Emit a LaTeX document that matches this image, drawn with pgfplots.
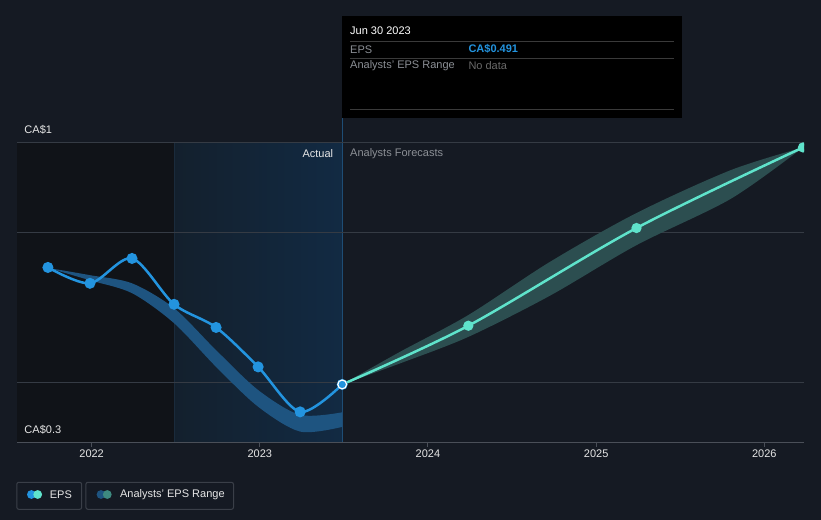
\documentclass[border=0pt]{standalone}
\usepackage{pgfplots}
\pgfplotsset{compat=1.18}
\usepgfplotslibrary{fillbetween}
\usepackage{fontspec}
\setmainfont{Liberation Sans}

\definecolor{bg}{HTML}{151A23}
\definecolor{darkzone}{HTML}{101318}
\definecolor{hlL}{HTML}{13202D}
\definecolor{hlR}{HTML}{122A43}
\definecolor{hledge}{HTML}{1A2B3C}
\definecolor{vline}{HTML}{1E4D75}
\definecolor{gridc}{HTML}{353B44}
\definecolor{axisgrey}{HTML}{4A4F58}
\definecolor{txt}{HTML}{E6E6E6}
\definecolor{greytxt}{HTML}{8C9096}
\definecolor{dimtxt}{HTML}{6A6A6A}
\definecolor{epsblue}{HTML}{2394DF}
\definecolor{teal}{HTML}{5FE3CB}
\definecolor{histband}{HTML}{1E5480}
\definecolor{tealband}{HTML}{2C4E50}
\definecolor{legteal}{HTML}{3E8A80}
\definecolor{tipline}{HTML}{3A3A3A}
\definecolor{legbox}{HTML}{3A3F48}

\newcommand{\fs}{\fontsize{11bp}{13bp}\selectfont}
\pagecolor{bg}

\begin{document}
\begin{tikzpicture}
\path (0,0) rectangle (821bp,-520bp);

\begin{axis}[
  set layers,
  at={(16.8bp,-442.3bp)}, anchor=south west,
  scale only axis, width=787.2bp, height=300bp,
  xmin=2021.555, xmax=2026.236, ymin=0.3, ymax=1.0,
  axis line style={draw=none},
  xtick={2022,2023,2024,2025,2026},
  xticklabel style={font=\fs, text=txt},
  /pgf/number format/1000 sep={},
  /pgf/number format/assume math mode=true,
  xtick pos=bottom, tick align=outside, major tick length=4.3bp,
  xtick style={draw=axisgrey, line width=1bp},
  ytick={0.44,0.79,1}, yticklabels={,,},
  ytick style={/pgfplots/major tick length=0pt},
  ymajorgrids, grid style={draw=gridc, line width=1bp},
  clip marker paths=true,
]
% past period and last-year highlight
\begin{pgfonlayer}{axis background}
  \fill[darkzone] (axis cs:2021.555,0.3) rectangle (axis cs:2022.49,1.0);
  \shade[left color=hlL,right color=hlR] (axis cs:2022.49,0.3) rectangle (axis cs:2023.49,1.0);
  \draw[hledge,line width=1bp] (axis cs:2022.49,0.3) -- (axis cs:2022.49,1.0);
  \draw[vline,line width=1bp] (axis cs:2023.49,0.3) -- (axis cs:2023.49,1.0);
\end{pgfonlayer}

% analysts' forecast range
\addplot[name path=fu, draw=none, smooth] coordinates {
  (2023.49,0.435) (2023.833,0.511) (2024.24,0.597) (2024.725,0.721)
  (2025.24,0.835) (2025.80,0.935) (2026.23,0.988)};
\addplot[name path=fl, draw=none, smooth] coordinates {
  (2023.49,0.435) (2023.833,0.484) (2024.24,0.546) (2024.725,0.642)
  (2025.24,0.760) (2025.80,0.868) (2026.23,0.988)};
\addplot[tealband, draw=none] fill between[of=fu and fl];

% past analysts' range
\addplot[name path=hu, draw=none, smooth] coordinates {
  (2021.74,0.707) (2021.99,0.690) (2022.24,0.671) (2022.49,0.613)
  (2022.74,0.515) (2022.99,0.422) (2023.24,0.364) (2023.49,0.370)};
\addplot[name path=hl, draw=none, smooth] coordinates {
  (2021.74,0.707) (2021.99,0.678) (2022.24,0.648) (2022.49,0.578)
  (2022.74,0.476) (2022.99,0.383) (2023.24,0.325) (2023.49,0.336)};
\addplot[histband, draw=none] fill between[of=hu and hl];

% EPS forecast
\addplot[teal, line width=2.5bp, smooth, mark=*, mark size=3.8bp,
  mark options={fill=teal, draw=none}] coordinates {
  (2023.49,0.435) (2024.24,0.572) (2025.24,0.800) (2026.23,0.988)};

% EPS actual
\addplot[epsblue, line width=2.5bp, smooth, mark=*, mark size=4.2bp,
  mark options={fill=epsblue, draw=none}] coordinates {
  (2021.74,0.708) (2021.99,0.671) (2022.24,0.729) (2022.49,0.622)
  (2022.74,0.568) (2022.99,0.476) (2023.24,0.371) (2023.49,0.435)};
\addplot[only marks, mark=*, mark size=4.4bp,
  mark options={fill=epsblue, draw=white, line width=1.2bp}] coordinates {
  (2023.49,0.435)};
\end{axis}

\begin{scope}[x=1bp,y=-1bp, every node/.style={inner sep=0pt, font=\fs}]
  \draw[vline,line width=1bp] (342.2,117.7) -- (342.2,142.3);
  % axis line
  \draw[axisgrey,line width=1bp] (16.8,442.3) -- (804,442.3);
  % value labels
  \node[anchor=west, text=txt] at (24.3,130) {CA\$1};
  \node[anchor=west, text=txt] at (24.3,430) {CA\$0.3};
  \node[anchor=east, text=txt] at (333.3,154) {Actual};
  \node[anchor=west, text=greytxt] at (350,154) {Analysts Forecasts};

  % tooltip
  \fill[black] (342,16) rectangle (682,117.7);
  \draw[tipline,line width=1bp] (350,41.7) -- (674,41.7);
  \draw[tipline,line width=1bp] (350,58.3) -- (674,58.3);
  \draw[tipline,line width=1bp] (350,109.3) -- (674,109.3);
  \node[anchor=west, text=white] at (350,31) {Jun 30 2023};
  \node[anchor=west, text=greytxt] at (350,49.3) {EPS};
  \node[anchor=west, text=epsblue, font=\fs\bfseries] at (468.3,49.3) {CA\$0.491};
  \node[anchor=west, text=greytxt] at (350,66) {Analysts' EPS Range};
  \node[anchor=west, text=dimtxt] at (468.3,66) {No data};

  % legend
  \draw[legbox,line width=1bp,rounded corners=2bp] (16.8,482.3) rectangle (81.7,509.3);
  \draw[legbox,line width=1bp,rounded corners=2bp] (85.9,482.3) rectangle (233.5,509.3);
  \fill[epsblue] (31.4,494.5) circle (4.4);
  \fill[teal] (37.7,494.5) circle (4.4);
  \node[anchor=west, text=txt] at (49.7,494.5) {EPS};
  \fill[histband] (101,494.5) circle (4.4);
  \fill[legteal] (107.3,494.5) circle (4.4);
  \node[anchor=west, text=txt] at (119.9,494.5) {Analysts' EPS Range};
\end{scope}
\end{tikzpicture}
\end{document}
